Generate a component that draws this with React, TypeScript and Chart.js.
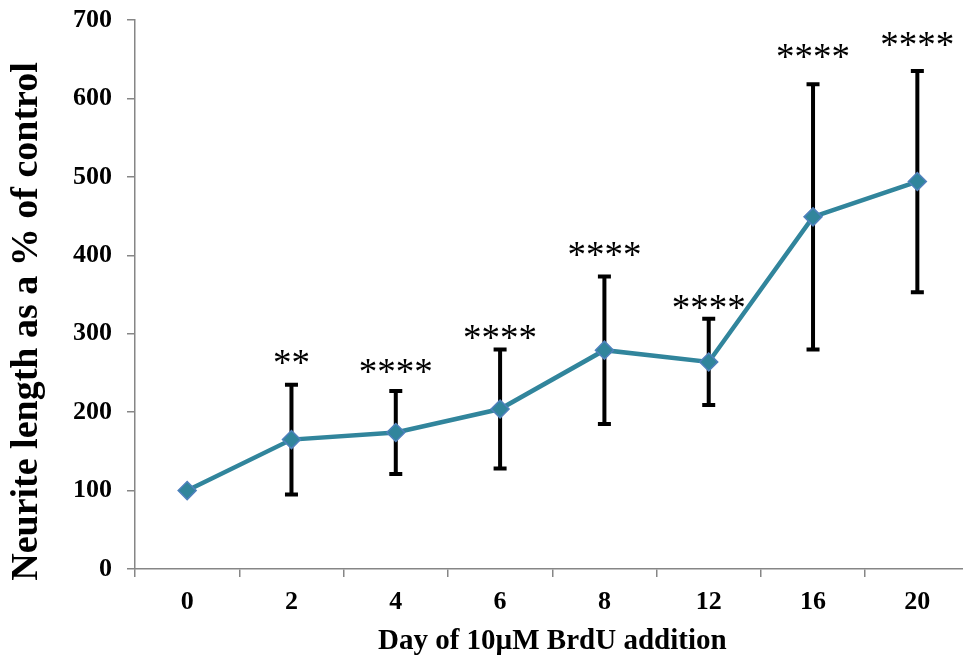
import React, { useEffect, useRef } from "react";
import { Chart, registerables } from "chart.js";
Chart.register(...registerables);

const days = ["0", "2", "4", "6", "8", "12", "16", "20"];
const meanPct = [100, 165, 174, 204, 279, 264, 449, 494];
const errPct = [0, 70, 53, 76, 94, 55, 169, 141];
const sigLabels = ["", "**", "****", "****", "****", "****", "****", "****"];
const sigY = [0, 269, 258, 301, 407, 339, 659, 675];
const yMin = 0;
const yMax = 700;
const yStep = 100;
const xTitle = "Day of 10\u00b5M BrdU addition";
const yTitle = "Neurite length as a % of control";

const SERIF = "'Liberation Serif', 'Times New Roman', serif";

const errorBarPlugin = {
  id: "errorBars",
  beforeDatasetsDraw(chart: any) {
    const ctx = chart.ctx;
    const meta = chart.getDatasetMeta(0);
    const ys = chart.scales.y;
    ctx.save();
    ctx.strokeStyle = "#000000";
    ctx.lineWidth = 4;
    meta.data.forEach((pt: any, i: number) => {
      const e = errPct[i];
      if (!e) return;
      const x = pt.x;
      const top = ys.getPixelForValue(meanPct[i] + e);
      const bot = ys.getPixelForValue(meanPct[i] - e);
      ctx.beginPath();
      ctx.moveTo(x, top);
      ctx.lineTo(x, bot);
      ctx.moveTo(x - 6.5, top);
      ctx.lineTo(x + 6.5, top);
      ctx.moveTo(x - 6.5, bot);
      ctx.lineTo(x + 6.5, bot);
      ctx.stroke();
    });
    ctx.restore();
  },
  afterDatasetsDraw(chart: any) {
    const ctx = chart.ctx;
    const meta = chart.getDatasetMeta(0);
    const ys = chart.scales.y;
    ctx.save();
    ctx.fillStyle = "#000000";
    ctx.font = `37px ${SERIF}`;
    ctx.textAlign = "center";
    ctx.textBaseline = "alphabetic";
    meta.data.forEach((pt: any, i: number) => {
      const s = sigLabels[i];
      if (!s) return;
      const y = ys.getPixelForValue(sigY[i]);
      ctx.fillText(s, pt.x, y + 17);
    });
    ctx.restore();
  },
  afterDraw(chart: any) {
    const ctx = chart.ctx;
    const area = chart.chartArea;
    ctx.save();
    ctx.fillStyle = "#000000";
    ctx.font = `bold 38px ${SERIF}`;
    ctx.textAlign = "center";
    ctx.textBaseline = "middle";
    ctx.translate(27, (area.top + area.bottom) / 2 + 27);
    ctx.rotate(-Math.PI / 2);
    ctx.fillText(yTitle, 0, 0);
    ctx.restore();
  },
};

export default function App() {
  const ref = useRef<HTMLCanvasElement | null>(null);
  useEffect(() => {
    if (!ref.current) return;
    const chart = new Chart(ref.current, {
      type: "line",
      data: {
        labels: days,
        datasets: [
          {
            data: meanPct,
            borderColor: "#31859C",
            borderWidth: 4.5,
            pointStyle: "rectRot",
            pointRadius: 9,
            pointBackgroundColor: "#31859C",
            pointBorderColor: "#4F81BD",
            pointBorderWidth: 1.5,
            tension: 0,
          },
        ],
      },
      options: {
        animation: false,
        responsive: false,
        maintainAspectRatio: false,
        layout: { padding: { top: 20, right: 8, left: 0, bottom: 0 } },
        plugins: { legend: { display: false }, tooltip: { enabled: false } },
        scales: {
          x: {
            type: "category",
            offset: true,
            grid: {
              offset: true,
              drawOnChartArea: false,
              color: "#868686",
              lineWidth: 1.5,
              tickLength: 8,
            },
            border: { color: "#868686", width: 1.5 },
            ticks: {
              color: "#000000",
              font: { family: SERIF, size: 26, weight: "bold" },
              padding: 10,
              maxRotation: 0,
            },
            title: {
              display: true,
              text: xTitle,
              color: "#000000",
              font: { family: SERIF, size: 29, weight: "bold" },
              padding: { top: 0, bottom: 0 },
            },
            afterFit(scale: any) {
              scale.height = 90;
            },
          },
          y: {
            min: yMin,
            max: yMax,
            grid: {
              drawOnChartArea: false,
              color: "#868686",
              lineWidth: 1.5,
              tickLength: 8,
            },
            border: { color: "#868686", width: 1.5 },
            ticks: {
              stepSize: yStep,
              color: "#000000",
              font: { family: SERIF, size: 26, weight: "bold" },
              padding: 15,
            },
            title: { display: false },
            afterFit(scale: any) {
              scale.width = 135;
              scale.paddingTop = 0;
              scale.paddingBottom = 0;
            },
          },
        },
      },
      plugins: [errorBarPlugin],
    } as any);
    return () => chart.destroy();
  }, []);
  return (
    <div style={{ position: "fixed", left: 0, top: 0, width: 980, height: 659, background: "#fff" }}>
      <canvas ref={ref} width={980} height={659} style={{ width: 980, height: 659, display: "block" }} />
    </div>
  );
}
